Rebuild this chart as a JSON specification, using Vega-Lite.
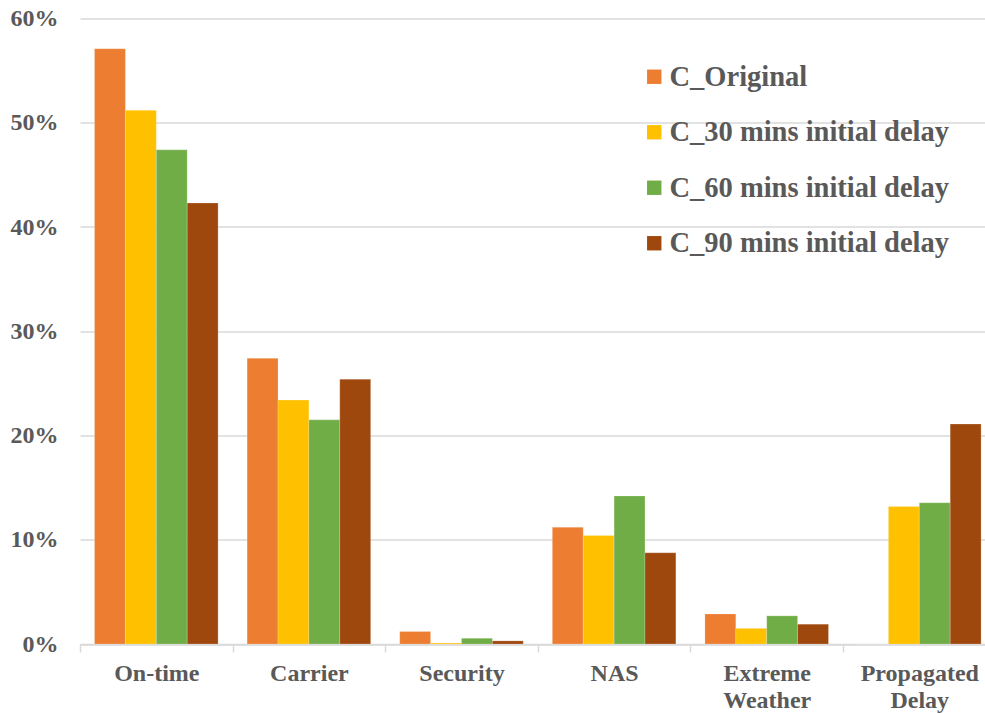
{
  "$schema": "https://vega.github.io/schema/vega-lite/v6.json",
  "width": 905,
  "height": 625.5,
  "autosize": {"type": "none"},
  "padding": {"left": 80, "top": 18.5, "right": 0, "bottom": 70},
  "background": "white",
  "config": {
    "view": {"stroke": null},
    "font": "Liberation Serif"
  },
  "data": {
    "values": [
      {"cause": "On-time", "scenario": "C_Original", "share": 0.571},
      {"cause": "On-time", "scenario": "C_30 mins initial delay", "share": 0.512},
      {"cause": "On-time", "scenario": "C_60 mins initial delay", "share": 0.474},
      {"cause": "On-time", "scenario": "C_90 mins initial delay", "share": 0.423},
      {"cause": "Carrier", "scenario": "C_Original", "share": 0.274},
      {"cause": "Carrier", "scenario": "C_30 mins initial delay", "share": 0.234},
      {"cause": "Carrier", "scenario": "C_60 mins initial delay", "share": 0.215},
      {"cause": "Carrier", "scenario": "C_90 mins initial delay", "share": 0.254},
      {"cause": "Security", "scenario": "C_Original", "share": 0.012},
      {"cause": "Security", "scenario": "C_30 mins initial delay", "share": 0.001},
      {"cause": "Security", "scenario": "C_60 mins initial delay", "share": 0.0055},
      {"cause": "Security", "scenario": "C_90 mins initial delay", "share": 0.003},
      {"cause": "NAS", "scenario": "C_Original", "share": 0.112},
      {"cause": "NAS", "scenario": "C_30 mins initial delay", "share": 0.104},
      {"cause": "NAS", "scenario": "C_60 mins initial delay", "share": 0.142},
      {"cause": "NAS", "scenario": "C_90 mins initial delay", "share": 0.0875},
      {"cause": "Extreme Weather", "scenario": "C_Original", "share": 0.0288},
      {"cause": "Extreme Weather", "scenario": "C_30 mins initial delay", "share": 0.015},
      {"cause": "Extreme Weather", "scenario": "C_60 mins initial delay", "share": 0.027},
      {"cause": "Extreme Weather", "scenario": "C_90 mins initial delay", "share": 0.019},
      {"cause": "Propagated Delay", "scenario": "C_Original", "share": 0},
      {"cause": "Propagated Delay", "scenario": "C_30 mins initial delay", "share": 0.132},
      {"cause": "Propagated Delay", "scenario": "C_60 mins initial delay", "share": 0.1355},
      {"cause": "Propagated Delay", "scenario": "C_90 mins initial delay", "share": 0.211}
    ]
  },
  "mark": {"type": "bar", "stroke": "white", "strokeOpacity": 0.35, "strokeWidth": 0.6},
  "encoding": {
    "x": {
      "field": "cause",
      "type": "nominal",
      "sort": null,
      "scale": {"range": [0, 915.6], "paddingInner": 0, "paddingOuter": 0},
      "axis": {
        "title": null,
        "labelAngle": 0,
        "labelExpr": "split(datum.label, ' ')",
        "labelFont": "Liberation Serif",
        "labelFontSize": 24,
        "labelFontWeight": "bold",
        "labelColor": "#595959",
        "labelLineHeight": 27,
        "labelLimit": 300,
        "labelPadding": 9,
        "tickBand": "extent",
        "tickSize": 8,
        "tickColor": "#d9d9d9",
        "tickWidth": 1.5,
        "domainColor": "#d9d9d9",
        "domainWidth": 1.5,
        "grid": false
      }
    },
    "xOffset": {
      "field": "scenario",
      "type": "nominal",
      "sort": ["C_Original", "C_30 mins initial delay", "C_60 mins initial delay", "C_90 mins initial delay"],
      "scale": {"paddingInner": 0, "paddingOuter": 0.47}
    },
    "y": {
      "field": "share",
      "type": "quantitative",
      "scale": {"domain": [0, 0.6], "nice": false},
      "axis": {
        "title": null,
        "format": ".0%",
        "values": [0, 0.1, 0.2, 0.3, 0.4, 0.5, 0.6],
        "labelFont": "Liberation Serif",
        "labelFontSize": 24,
        "labelFontWeight": "bold",
        "labelColor": "#595959",
        "labelPadding": 22,
        "ticks": false,
        "tickSize": 0,
        "domain": false,
        "grid": true,
        "gridColor": "#d9d9d9",
        "gridWidth": 1.4
      }
    },
    "color": {
      "field": "scenario",
      "type": "nominal",
      "scale": {
        "domain": ["C_Original", "C_30 mins initial delay", "C_60 mins initial delay", "C_90 mins initial delay"],
        "range": ["#ED7D31", "#FFC000", "#70AD47", "#9E480E"]
      },
      "legend": {
        "title": null,
        "orient": "none",
        "legendX": 560,
        "legendY": 44,
        "padding": 0,
        "symbolType": "square",
        "symbolSize": 207,
        "symbolStrokeWidth": 0,
        "symbolOpacity": 1,
        "labelFont": "Liberation Serif",
        "labelFontSize": 28.5,
        "labelFontWeight": "bold",
        "labelColor": "#595959",
        "labelOffset": 1,
        "labelLimit": 400,
        "rowPadding": 26.5
      }
    }
  }
}
